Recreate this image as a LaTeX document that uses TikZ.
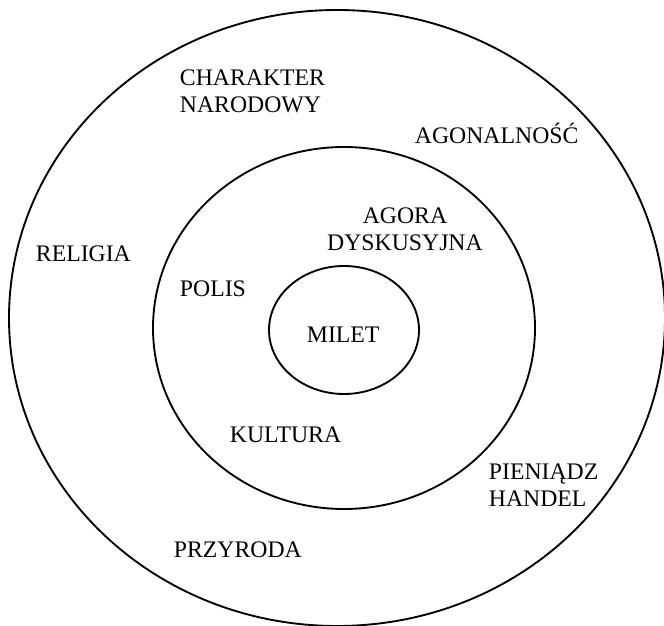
\documentclass[tikz,border=0pt]{standalone}
\usepackage{fontspec}
\setmainfont{Liberation Serif}
\usepackage{tikz}

\begin{document}
\begin{tikzpicture}[x=0.75pt, y=0.75pt, line width=1.4pt,
    lbl/.style={anchor=base west, inner sep=0pt, align=left,
        font=\fontsize{17.8}{20.25}\selectfont}]
    \useasboundingbox (0,0) rectangle (664,625);
    \draw (337,307) ellipse [x radius=328, y radius=308];
    \draw (344,297) ellipse [x radius=191, y radius=181];
    \draw (344,295) ellipse [x radius=75, y radius=64];
    \node[lbl] (charakter) at (179,512) {CHARAKTER\\NARODOWY};
    \node[lbl] (agonal) at (414,481) {AGONALNOŚĆ};
    \node[lbl] (religia) at (35,363) {RELIGIA};
    \node[lbl, anchor=base, align=center] (agora) at (405,374) {AGORA\\DYSKUSYJNA};
    \node[lbl] (polis) at (179,328) {POLIS};
    \node[lbl] (milet) at (306,282) {MILET};
    \node[lbl] (kultura) at (229,182) {KULTURA};
    \node[lbl] (pieniadz) at (488,118) {PIENIĄDZ\\HANDEL};
    \node[lbl] (przyroda) at (173,68) {PRZYRODA};
\end{tikzpicture}
\end{document}
